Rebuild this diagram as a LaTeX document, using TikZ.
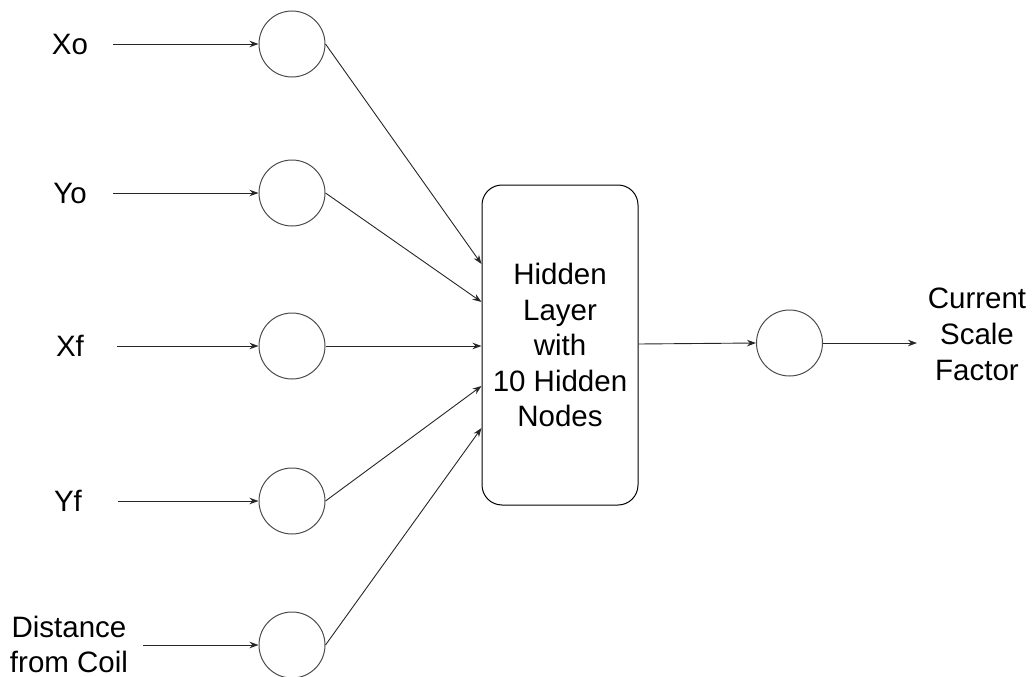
\documentclass[tikz,border=0pt]{standalone}
\usepackage{fontspec}
\setmainfont{Liberation Sans}
\usetikzlibrary{arrows.meta}
\begin{document}
\begin{tikzpicture}[x=1pt,y=-1pt,
  neuron/.style={circle,draw=black!70,line width=1pt,minimum size=66pt,inner sep=0pt},
  lbl/.style={inner sep=0pt,align=center,font=\fontsize{29.5}{35}\selectfont},
  hidbox/.style={draw=black,line width=1pt,rounded corners=20pt,minimum width=156pt,minimum height=320pt,inner sep=0pt,align=center,font=\fontsize{29.5}{35.5}\selectfont},
  conn/.style={draw=black!85,line width=0.9pt,-{Stealth[length=9pt,width=6.5pt]}}]
\useasboundingbox (0,0) rectangle (1034,677);
% input neurons
\node[neuron] (i1) at (292,44) {};
\node[neuron] (i2) at (292,193) {};
\node[neuron] (i3) at (292,346) {};
\node[neuron] (i4) at (292,501) {};
\node[neuron] (i5) at (292,645) {};
% labels
\node[lbl] (l1) at (70,44) {Xo};
\node[lbl] (l2) at (70,193) {Yo};
\node[lbl] (l3) at (70,346) {Xf};
\node[lbl] (l4) at (68,501) {Yf};
\node[lbl] (l5) at (69,644) {Distance\\from Coil};
% arrow starts
\coordinate (s1) at (113,44);
\coordinate (s2) at (113,193);
\coordinate (s3) at (117,346);
\coordinate (s4) at (118,501);
\coordinate (s5) at (143,645);
% hidden layer
\node[hidbox] (h) at (560,345) {Hidden\\Layer\\with\\10 Hidden\\Nodes};
% output
\node[neuron] (o) at (789.5,343) {};
\coordinate (oe) at (917,343);
\node[lbl,font=\fontsize{29.5}{36}\selectfont] (out) at (977,334) {Current\\Scale\\Factor};
% connectors
\foreach \k in {1,...,5} {\draw[conn] (s\k) -- (i\k.west);}
\draw[conn] (i1.east) -- (h.west |- 0,264);
\draw[conn] (i2.east) -- (h.west |- 0,302);
\draw[conn] (i3.east) -- (h.west |- 0,346);
\draw[conn] (i4.east) -- (h.west |- 0,386);
\draw[conn] (i5.east) -- (h.west |- 0,428);
\draw[conn] (h.east |- 0,344) -- (o.west);
\draw[conn] (o.east) -- (oe);
\end{tikzpicture}
\end{document}
